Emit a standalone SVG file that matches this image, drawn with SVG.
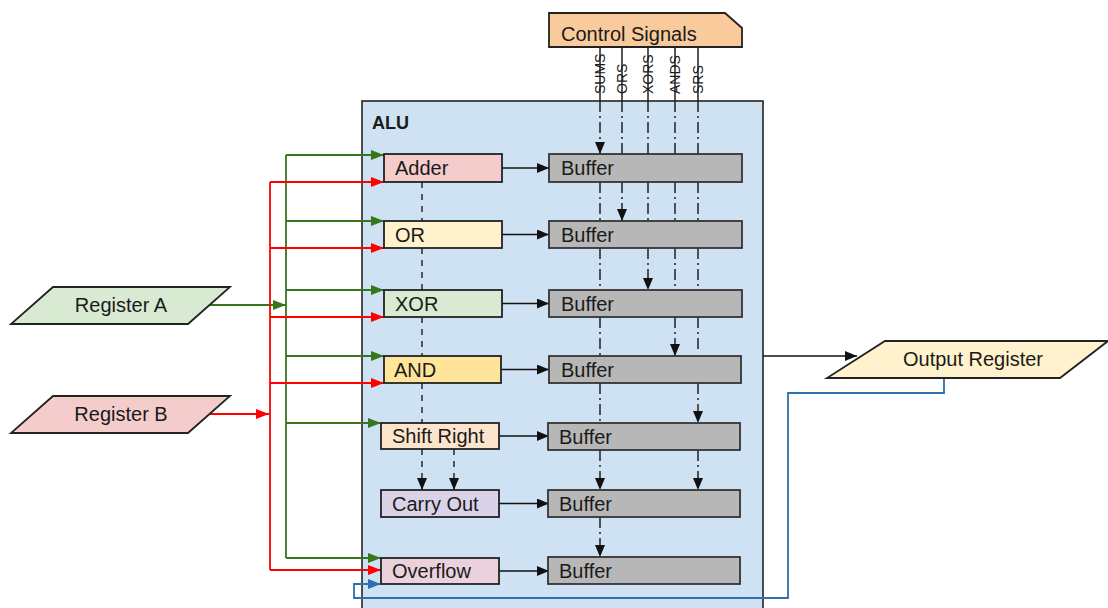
<svg xmlns="http://www.w3.org/2000/svg" width="1108" height="608" viewBox="0 0 1108 608">
  <style>
    text { font-family: "Liberation Sans", Arial, sans-serif; fill: #1a1a1a; }
    .lbl { font-size: 20px; }
    .sig { font-size: 14px; }
    .box { stroke: #222; stroke-width: 1.8; }
    .buf { fill: #b7b7b7; stroke: #333; stroke-width: 1.8; }
    .blk { stroke: #111; stroke-width: 1.5; fill: none; }
    .grn { stroke: #38761d; stroke-width: 1.8; fill: none; }
    .red { stroke: #ff0000; stroke-width: 1.8; fill: none; }
    .blu { stroke: #2f6fad; stroke-width: 1.8; fill: none; }
    .dash { stroke: #333; stroke-width: 1.6; stroke-dasharray: 6 6; fill: none; }
    .dd { stroke: #222; stroke-width: 1.5; stroke-dasharray: 11 4 2 4; fill: none; }
    .sol { stroke: #222; stroke-width: 1.5; fill: none; }
  </style>
  <defs>
    <marker id="ah-k" markerUnits="userSpaceOnUse" markerWidth="12" markerHeight="10" refX="12" refY="5" orient="auto">
      <path d="M0,0 L12,5 L0,10 z" fill="#111"/>
    </marker>
    <marker id="ah-g" markerUnits="userSpaceOnUse" markerWidth="13" markerHeight="10" refX="13" refY="5" orient="auto">
      <path d="M0,0 L13,5 L0,10 z" fill="#38761d"/>
    </marker>
    <marker id="ah-r" markerUnits="userSpaceOnUse" markerWidth="13" markerHeight="10" refX="13" refY="5" orient="auto">
      <path d="M0,0 L13,5 L0,10 z" fill="#ff0000"/>
    </marker>
    <marker id="ah-b" markerUnits="userSpaceOnUse" markerWidth="13" markerHeight="10" refX="13" refY="5" orient="auto">
      <path d="M0,0 L13,5 L0,10 z" fill="#2f6fad"/>
    </marker>
  </defs>

  <rect width="1108" height="608" fill="#ffffff"/>

  <!-- ALU container -->
  <g id="alu">
    <rect x="362" y="101" width="401" height="520" fill="#cfe2f3" stroke="#222" stroke-width="1.6"/>
    <text x="372" y="129" style="font-size:18px;font-weight:bold">ALU</text>
  </g>

  <!-- Control signals source -->
  <g id="control-signals">
    <path d="M549,13 H725 L742,28 V47 H549 Z" fill="#f9cb9c" class="box"/>
    <text class="lbl" x="561" y="41">Control Signals</text>
  </g>

  <!-- Connectors -->
  <g id="connectors">
    <!-- control signal lines above the ALU -->
    <path class="sol" d="M600,47 V101 M622,47 V101 M648,47 V101 M675,47 V101 M698,47 V101"/>
    <!-- SUMS -->
    <path class="dd" d="M600,101 V154" marker-end="url(#ah-k)"/>
    <path class="dd" d="M600,182 V221 M600,248 V290 M600,317 V356 M600,383 V423"/>
    <path class="dd" d="M600,450 V490" marker-end="url(#ah-k)"/>
    <path class="dd" d="M600,517 V557" marker-end="url(#ah-k)"/>
    <!-- ORS -->
    <path class="dd" d="M622,101 V154"/>
    <path class="dd" d="M622,182 V221" marker-end="url(#ah-k)"/>
    <!-- XORS -->
    <path class="dd" d="M648,101 V154 M648,182 V221"/>
    <path class="dd" d="M648,248 V290" marker-end="url(#ah-k)"/>
    <!-- ANDS -->
    <path class="dd" d="M675,101 V154 M675,182 V221 M675,248 V290"/>
    <path class="dd" d="M675,317 V356" marker-end="url(#ah-k)"/>
    <!-- SRS -->
    <path class="dd" d="M698,101 V154 M698,182 V221 M698,248 V290 M698,317 V352"/>
    <path class="dd" d="M698,383 V423" marker-end="url(#ah-k)"/>
    <path class="dd" d="M698,450 V490" marker-end="url(#ah-k)"/>

    <!-- unit to buffer -->
    <path class="blk" d="M502,168 H549" marker-end="url(#ah-k)"/>
    <path class="blk" d="M502,234.5 H549" marker-end="url(#ah-k)"/>
    <path class="blk" d="M502,303.5 H549" marker-end="url(#ah-k)"/>
    <path class="blk" d="M501,369.5 H549" marker-end="url(#ah-k)"/>
    <path class="blk" d="M499,436 H549" marker-end="url(#ah-k)"/>
    <path class="blk" d="M499,503.5 H549" marker-end="url(#ah-k)"/>
    <path class="blk" d="M499,571 H549" marker-end="url(#ah-k)"/>

    <!-- carry chain between units -->
    <path class="dash" d="M422,182 V221 M422,248 V290 M422,317 V356 M422,383 V423"/>
    <path class="dash" d="M422,449 V490" marker-end="url(#ah-k)"/>
    <path class="dash" d="M454,449 V490" marker-end="url(#ah-k)"/>

    <!-- Register A bus -->
    <path class="grn" d="M210,305 H286" marker-end="url(#ah-g)"/>
    <path class="grn" d="M286,155 V558"/>
    <path class="grn" d="M286,155 H384" marker-end="url(#ah-g)"/>
    <path class="grn" d="M286,221 H384" marker-end="url(#ah-g)"/>
    <path class="grn" d="M286,290 H384" marker-end="url(#ah-g)"/>
    <path class="grn" d="M286,356 H384" marker-end="url(#ah-g)"/>
    <path class="grn" d="M286,423 H381" marker-end="url(#ah-g)"/>
    <path class="grn" d="M286,558 H381" marker-end="url(#ah-g)"/>

    <!-- Register B bus -->
    <path class="red" d="M210,414 H269" marker-end="url(#ah-r)"/>
    <path class="red" d="M270,182 V570"/>
    <path class="red" d="M270,182 H384" marker-end="url(#ah-r)"/>
    <path class="red" d="M270,248 H384" marker-end="url(#ah-r)"/>
    <path class="red" d="M270,317 H384" marker-end="url(#ah-r)"/>
    <path class="red" d="M270,383 H384" marker-end="url(#ah-r)"/>
    <path class="red" d="M270,570 H381" marker-end="url(#ah-r)"/>

    <!-- ALU result out -->
    <path class="blk" d="M763,356 H857" marker-end="url(#ah-k)"/>

    <!-- feedback from output register -->
    <path class="blu" d="M944,378 V393 H788 V598 H354 V584 H381" marker-end="url(#ah-b)"/>
  </g>

  <!-- Control signal labels -->
  <g id="signal-labels">
    <text class="sig" transform="translate(605,94) rotate(-90)">SUMS</text>
    <text class="sig" transform="translate(627,94) rotate(-90)">ORS</text>
    <text class="sig" transform="translate(653,94) rotate(-90)">XORS</text>
    <text class="sig" transform="translate(680,94) rotate(-90)">ANDS</text>
    <text class="sig" transform="translate(703,94) rotate(-90)">SRS</text>
  </g>

  <!-- Input registers -->
  <g id="register-a">
    <path d="M53,287 H230 L188,324 H11 Z" fill="#d9ead3" class="box"/>
    <text class="lbl" x="121" y="312" text-anchor="middle">Register A</text>
  </g>
  <g id="register-b">
    <path d="M53,396 H230 L188,433 H11 Z" fill="#f4cccc" class="box"/>
    <text class="lbl" x="121" y="421" text-anchor="middle">Register B</text>
  </g>

  <!-- Output register -->
  <g id="output-register">
    <path d="M885,341 H1108 L1060,378 H827 Z" fill="#fff2cc" class="box"/>
    <text class="lbl" x="973" y="366" text-anchor="middle">Output Register</text>
  </g>

  <!-- Functional units -->
  <g id="adder">
    <rect x="384" y="154" width="118" height="28" fill="#f4cccc" class="box"/>
    <text class="lbl" x="395" y="175">Adder</text>
  </g>
  <g id="or">
    <rect x="384" y="221" width="118" height="27" fill="#fff2cc" class="box"/>
    <text class="lbl" x="395" y="241.5">OR</text>
  </g>
  <g id="xor">
    <rect x="384" y="290" width="118" height="27" fill="#d9ead3" class="box"/>
    <text class="lbl" x="395" y="310.5">XOR</text>
  </g>
  <g id="and">
    <rect x="384" y="356" width="117" height="27" fill="#ffe599" class="box"/>
    <text class="lbl" x="394" y="376.5">AND</text>
  </g>
  <g id="shift-right">
    <rect x="381" y="423" width="118" height="26" fill="#fce5cd" class="box"/>
    <text class="lbl" x="392" y="443">Shift Right</text>
  </g>
  <g id="carry-out">
    <rect x="381" y="490" width="118" height="27" fill="#d9d2e9" class="box"/>
    <text class="lbl" x="392" y="510.5">Carry Out</text>
  </g>
  <g id="overflow">
    <rect x="381" y="558" width="118" height="26" fill="#ead1dc" class="box"/>
    <text class="lbl" x="392" y="578">Overflow</text>
  </g>

  <!-- Output buffers -->
  <g id="buffer-1">
    <rect x="549" y="154" width="193" height="28" class="buf"/>
    <text class="lbl" x="561" y="175">Buffer</text>
  </g>
  <g id="buffer-2">
    <rect x="549" y="221" width="193" height="27" class="buf"/>
    <text class="lbl" x="561" y="241.5">Buffer</text>
  </g>
  <g id="buffer-3">
    <rect x="549" y="290" width="193" height="27" class="buf"/>
    <text class="lbl" x="561" y="310.5">Buffer</text>
  </g>
  <g id="buffer-4">
    <rect x="549" y="356" width="192" height="27" class="buf"/>
    <text class="lbl" x="561" y="376.5">Buffer</text>
  </g>
  <g id="buffer-5">
    <rect x="548" y="423" width="192" height="27" class="buf"/>
    <text class="lbl" x="559" y="443.5">Buffer</text>
  </g>
  <g id="buffer-6">
    <rect x="548" y="490" width="192" height="27" class="buf"/>
    <text class="lbl" x="559" y="510.5">Buffer</text>
  </g>
  <g id="buffer-7">
    <rect x="548" y="557" width="192" height="27" class="buf"/>
    <text class="lbl" x="559" y="577.5">Buffer</text>
  </g>
</svg>
